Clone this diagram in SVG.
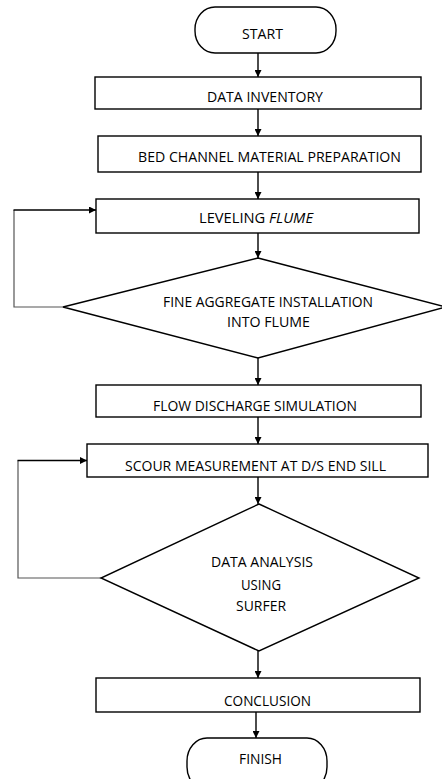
<svg xmlns="http://www.w3.org/2000/svg" width="442" height="779" viewBox="0 0 442 779">
  <style>
    .shape { fill: #ffffff; stroke: #000000; stroke-width: 1.4; }
    .link { fill: none; stroke: #000000; stroke-width: 1.4; }
    .loop { fill: none; stroke: #555555; stroke-width: 1.2; }
    .label { font-family: "Open Sans", "Liberation Sans", Arial, sans-serif; font-size: 14px; fill: #000000; text-anchor: middle; }
  </style>
  <defs>
    <marker id="arrow" viewBox="0 0 10 10" refX="10" refY="5" markerWidth="7" markerHeight="7" markerUnits="userSpaceOnUse" orient="auto">
      <path d="M0,0 L10,5 L0,10 Z" fill="#000000"/>
    </marker>
  </defs>

  <rect width="442" height="779" fill="#ffffff"/>

  <!-- connectors -->
  <g id="connectors">
    <line class="link" x1="258" y1="53" x2="258" y2="77" marker-end="url(#arrow)"/>
    <line class="link" x1="258" y1="109" x2="258" y2="136" marker-end="url(#arrow)"/>
    <line class="link" x1="258" y1="172" x2="258" y2="199" marker-end="url(#arrow)"/>
    <line class="link" x1="258" y1="233" x2="258" y2="258" marker-end="url(#arrow)"/>
    <line class="link" x1="258" y1="358" x2="258" y2="385" marker-end="url(#arrow)"/>
    <line class="link" x1="258" y1="417" x2="258" y2="444" marker-end="url(#arrow)"/>
    <line class="link" x1="258" y1="477" x2="258" y2="504" marker-end="url(#arrow)"/>
    <line class="link" x1="258" y1="651" x2="258" y2="678" marker-end="url(#arrow)"/>
    <line class="link" x1="256" y1="712" x2="256" y2="738" marker-end="url(#arrow)"/>
    <!-- return loop: aggregate installation back to leveling -->
    <polyline class="loop" points="63,307 14,307 14,210"/>
    <line class="link" x1="13.5" y1="210" x2="96" y2="210" marker-end="url(#arrow)"/>
    <!-- return loop: data analysis back to scour measurement -->
    <polyline class="loop" points="101,578 18,578 18,460.5"/>
    <line class="link" x1="17.5" y1="460.5" x2="87" y2="460.5" marker-end="url(#arrow)"/>
  </g>

  <g id="start">
    <rect class="shape" x="195" y="7" width="141" height="46" rx="20" ry="22"/>
    <text class="label" x="262.5" y="39" textLength="41" lengthAdjust="spacingAndGlyphs">START</text>
  </g>

  <g id="data-inventory">
    <rect class="shape" x="95" y="77" width="326" height="32"/>
    <text class="label" x="265" y="102" textLength="116" lengthAdjust="spacingAndGlyphs">DATA INVENTORY</text>
  </g>

  <g id="bed-material">
    <rect class="shape" x="98" y="136" width="323" height="36"/>
    <text class="label" x="269.5" y="161.5" textLength="263" lengthAdjust="spacingAndGlyphs">BED CHANNEL MATERIAL PREPARATION</text>
  </g>

  <g id="leveling">
    <rect class="shape" x="96" y="199" width="323" height="34"/>
    <text class="label" x="256" y="223" textLength="114" lengthAdjust="spacingAndGlyphs">LEVELING <tspan font-style="italic">FLUME</tspan></text>
  </g>

  <g id="aggregate-installation">
    <polygon class="shape" points="258,258 446,307 258,358 63,307"/>
    <text class="label" x="268" y="307" textLength="210" lengthAdjust="spacingAndGlyphs">FINE AGGREGATE INSTALLATION</text>
    <text class="label" x="268.5" y="327" textLength="83" lengthAdjust="spacingAndGlyphs">INTO FLUME</text>
  </g>

  <g id="flow-discharge">
    <rect class="shape" x="96" y="385" width="325" height="32"/>
    <text class="label" x="255" y="410.5" textLength="204" lengthAdjust="spacingAndGlyphs">FLOW DISCHARGE SIMULATION</text>
  </g>

  <g id="scour-measurement">
    <rect class="shape" x="87" y="444" width="341" height="33"/>
    <text class="label" x="255.5" y="470.5" textLength="261" lengthAdjust="spacingAndGlyphs">SCOUR MEASUREMENT AT D/S END SILL</text>
  </g>

  <g id="data-analysis">
    <polygon class="shape" points="259,504 419,578 259,651 101,578"/>
    <text class="label" x="262" y="567" textLength="102" lengthAdjust="spacingAndGlyphs">DATA ANALYSIS</text>
    <text class="label" x="261" y="590" textLength="40" lengthAdjust="spacingAndGlyphs">USING</text>
    <text class="label" x="261" y="611" textLength="50" lengthAdjust="spacingAndGlyphs">SURFER</text>
  </g>

  <g id="conclusion">
    <rect class="shape" x="96" y="678" width="324" height="34"/>
    <text class="label" x="267.5" y="705.5" textLength="87" lengthAdjust="spacingAndGlyphs">CONCLUSION</text>
  </g>

  <g id="finish">
    <rect class="shape" x="187" y="738" width="140" height="52" rx="20" ry="23"/>
    <text class="label" x="260.5" y="764" textLength="43" lengthAdjust="spacingAndGlyphs">FINISH</text>
  </g>
</svg>
